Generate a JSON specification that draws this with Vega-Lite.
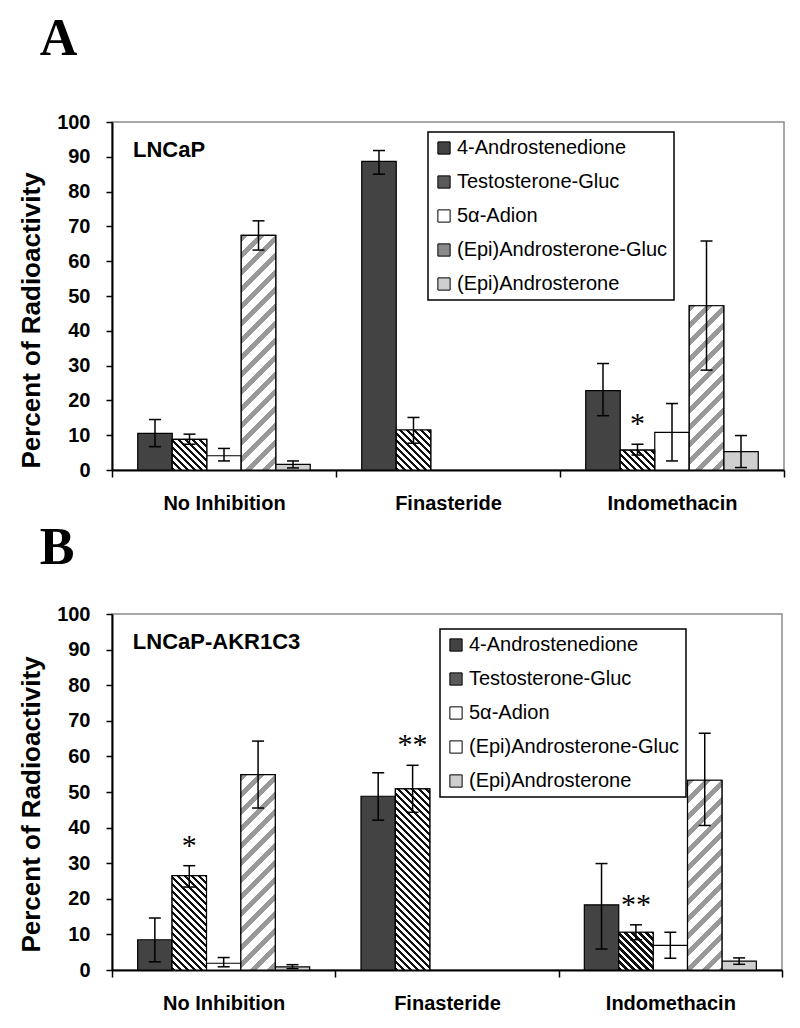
{
  "$schema": "https://vega.github.io/schema/vega-lite/v6.json",
  "background": "white",
  "padding": {"left": 17, "top": 12, "right": 5, "bottom": 5},
  "spacing": 7,
  "params": [
    {"name": "stopsTG", "value": [
      {"offset":0,"color":"#111"},{"offset":0.015625,"color":"#111"},{"offset":0.015625,"color":"#fff"},{"offset":0.03125,"color":"#fff"},
      {"offset":0.03125,"color":"#111"},{"offset":0.046875,"color":"#111"},{"offset":0.046875,"color":"#fff"},{"offset":0.0625,"color":"#fff"},
      {"offset":0.0625,"color":"#111"},{"offset":0.078125,"color":"#111"},{"offset":0.078125,"color":"#fff"},{"offset":0.09375,"color":"#fff"},
      {"offset":0.09375,"color":"#111"},{"offset":0.109375,"color":"#111"},{"offset":0.109375,"color":"#fff"},{"offset":0.125,"color":"#fff"},
      {"offset":0.125,"color":"#111"},{"offset":0.140625,"color":"#111"},{"offset":0.140625,"color":"#fff"},{"offset":0.15625,"color":"#fff"},
      {"offset":0.15625,"color":"#111"},{"offset":0.171875,"color":"#111"},{"offset":0.171875,"color":"#fff"},{"offset":0.1875,"color":"#fff"},
      {"offset":0.1875,"color":"#111"},{"offset":0.203125,"color":"#111"},{"offset":0.203125,"color":"#fff"},{"offset":0.21875,"color":"#fff"},
      {"offset":0.21875,"color":"#111"},{"offset":0.234375,"color":"#111"},{"offset":0.234375,"color":"#fff"},{"offset":0.25,"color":"#fff"},
      {"offset":0.25,"color":"#111"},{"offset":0.265625,"color":"#111"},{"offset":0.265625,"color":"#fff"},{"offset":0.28125,"color":"#fff"},
      {"offset":0.28125,"color":"#111"},{"offset":0.296875,"color":"#111"},{"offset":0.296875,"color":"#fff"},{"offset":0.3125,"color":"#fff"},
      {"offset":0.3125,"color":"#111"},{"offset":0.328125,"color":"#111"},{"offset":0.328125,"color":"#fff"},{"offset":0.34375,"color":"#fff"},
      {"offset":0.34375,"color":"#111"},{"offset":0.359375,"color":"#111"},{"offset":0.359375,"color":"#fff"},{"offset":0.375,"color":"#fff"},
      {"offset":0.375,"color":"#111"},{"offset":0.390625,"color":"#111"},{"offset":0.390625,"color":"#fff"},{"offset":0.40625,"color":"#fff"},
      {"offset":0.40625,"color":"#111"},{"offset":0.421875,"color":"#111"},{"offset":0.421875,"color":"#fff"},{"offset":0.4375,"color":"#fff"},
      {"offset":0.4375,"color":"#111"},{"offset":0.453125,"color":"#111"},{"offset":0.453125,"color":"#fff"},{"offset":0.46875,"color":"#fff"},
      {"offset":0.46875,"color":"#111"},{"offset":0.484375,"color":"#111"},{"offset":0.484375,"color":"#fff"},{"offset":0.5,"color":"#fff"},
      {"offset":0.5,"color":"#111"},{"offset":0.515625,"color":"#111"},{"offset":0.515625,"color":"#fff"},{"offset":0.53125,"color":"#fff"},
      {"offset":0.53125,"color":"#111"},{"offset":0.546875,"color":"#111"},{"offset":0.546875,"color":"#fff"},{"offset":0.5625,"color":"#fff"},
      {"offset":0.5625,"color":"#111"},{"offset":0.578125,"color":"#111"},{"offset":0.578125,"color":"#fff"},{"offset":0.59375,"color":"#fff"},
      {"offset":0.59375,"color":"#111"},{"offset":0.609375,"color":"#111"},{"offset":0.609375,"color":"#fff"},{"offset":0.625,"color":"#fff"},
      {"offset":0.625,"color":"#111"},{"offset":0.640625,"color":"#111"},{"offset":0.640625,"color":"#fff"},{"offset":0.65625,"color":"#fff"},
      {"offset":0.65625,"color":"#111"},{"offset":0.671875,"color":"#111"},{"offset":0.671875,"color":"#fff"},{"offset":0.6875,"color":"#fff"},
      {"offset":0.6875,"color":"#111"},{"offset":0.703125,"color":"#111"},{"offset":0.703125,"color":"#fff"},{"offset":0.71875,"color":"#fff"},
      {"offset":0.71875,"color":"#111"},{"offset":0.734375,"color":"#111"},{"offset":0.734375,"color":"#fff"},{"offset":0.75,"color":"#fff"},
      {"offset":0.75,"color":"#111"},{"offset":0.765625,"color":"#111"},{"offset":0.765625,"color":"#fff"},{"offset":0.78125,"color":"#fff"},
      {"offset":0.78125,"color":"#111"},{"offset":0.796875,"color":"#111"},{"offset":0.796875,"color":"#fff"},{"offset":0.8125,"color":"#fff"},
      {"offset":0.8125,"color":"#111"},{"offset":0.828125,"color":"#111"},{"offset":0.828125,"color":"#fff"},{"offset":0.84375,"color":"#fff"},
      {"offset":0.84375,"color":"#111"},{"offset":0.859375,"color":"#111"},{"offset":0.859375,"color":"#fff"},{"offset":0.875,"color":"#fff"},
      {"offset":0.875,"color":"#111"},{"offset":0.890625,"color":"#111"},{"offset":0.890625,"color":"#fff"},{"offset":0.90625,"color":"#fff"},
      {"offset":0.90625,"color":"#111"},{"offset":0.921875,"color":"#111"},{"offset":0.921875,"color":"#fff"},{"offset":0.9375,"color":"#fff"},
      {"offset":0.9375,"color":"#111"},{"offset":0.953125,"color":"#111"},{"offset":0.953125,"color":"#fff"},{"offset":0.96875,"color":"#fff"},
      {"offset":0.96875,"color":"#111"},{"offset":0.984375,"color":"#111"},{"offset":0.984375,"color":"#fff"},{"offset":1,"color":"#fff"}
    ]},
    {"name": "stopsEG", "value": [
      {"offset":0,"color":"#999"},{"offset":0.025,"color":"#999"},{"offset":0.025,"color":"#fff"},{"offset":0.0625,"color":"#fff"},
      {"offset":0.0625,"color":"#999"},{"offset":0.0875,"color":"#999"},{"offset":0.0875,"color":"#fff"},{"offset":0.125,"color":"#fff"},
      {"offset":0.125,"color":"#999"},{"offset":0.15,"color":"#999"},{"offset":0.15,"color":"#fff"},{"offset":0.1875,"color":"#fff"},
      {"offset":0.1875,"color":"#999"},{"offset":0.2125,"color":"#999"},{"offset":0.2125,"color":"#fff"},{"offset":0.25,"color":"#fff"},
      {"offset":0.25,"color":"#999"},{"offset":0.275,"color":"#999"},{"offset":0.275,"color":"#fff"},{"offset":0.3125,"color":"#fff"},
      {"offset":0.3125,"color":"#999"},{"offset":0.3375,"color":"#999"},{"offset":0.3375,"color":"#fff"},{"offset":0.375,"color":"#fff"},
      {"offset":0.375,"color":"#999"},{"offset":0.4,"color":"#999"},{"offset":0.4,"color":"#fff"},{"offset":0.4375,"color":"#fff"},
      {"offset":0.4375,"color":"#999"},{"offset":0.4625,"color":"#999"},{"offset":0.4625,"color":"#fff"},{"offset":0.5,"color":"#fff"},
      {"offset":0.5,"color":"#999"},{"offset":0.525,"color":"#999"},{"offset":0.525,"color":"#fff"},{"offset":0.5625,"color":"#fff"},
      {"offset":0.5625,"color":"#999"},{"offset":0.5875,"color":"#999"},{"offset":0.5875,"color":"#fff"},{"offset":0.625,"color":"#fff"},
      {"offset":0.625,"color":"#999"},{"offset":0.65,"color":"#999"},{"offset":0.65,"color":"#fff"},{"offset":0.6875,"color":"#fff"},
      {"offset":0.6875,"color":"#999"},{"offset":0.7125,"color":"#999"},{"offset":0.7125,"color":"#fff"},{"offset":0.75,"color":"#fff"},
      {"offset":0.75,"color":"#999"},{"offset":0.775,"color":"#999"},{"offset":0.775,"color":"#fff"},{"offset":0.8125,"color":"#fff"},
      {"offset":0.8125,"color":"#999"},{"offset":0.8375,"color":"#999"},{"offset":0.8375,"color":"#fff"},{"offset":0.875,"color":"#fff"},
      {"offset":0.875,"color":"#999"},{"offset":0.9,"color":"#999"},{"offset":0.9,"color":"#fff"},{"offset":0.9375,"color":"#fff"},
      {"offset":0.9375,"color":"#999"},{"offset":0.9625,"color":"#999"},{"offset":0.9625,"color":"#fff"},{"offset":1,"color":"#fff"}
    ]}
  ],
  "resolve": {
    "scale": {"color": "independent", "x": "independent", "y": "independent", "xOffset": "independent"},
    "legend": {"color": "independent"}
  },
  "config": {
    "font": "Liberation Sans",
    "view": {"stroke": "#8c8c8c", "strokeWidth": 1.5},
    "axis": {
      "domainColor": "black", "domainWidth": 2, "tickColor": "black", "tickWidth": 1.5,
      "labelColor": "black", "labelFont": "Liberation Sans", "labelFontWeight": "bold",
      "titleColor": "black", "titleFont": "Liberation Sans", "titleFontWeight": "bold", "grid": false
    },
    "legend": {
      "title": null, "labelFont": "Liberation Sans", "labelFontSize": 20, "labelColor": "black", "labelLimit": 320,
      "symbolType": "square", "symbolSize": 150, "symbolStrokeColor": "black", "symbolStrokeWidth": 1, "symbolOpacity": 1,
      "strokeColor": "black", "strokeWidth": 1.5, "fillColor": "white", "padding": 6, "rowPadding": 14, "labelOffset": 3
    },
    "title": {"font": "Liberation Serif", "fontSize": 52, "fontWeight": "bold", "color": "black", "anchor": "start", "frame": "bounds"}
  },
  "vconcat": [
    {
      "title": {"text": "A", "dx": 21, "offset": 46},
      "width": 672,
      "height": 348,
      "data": {"values": [
        {"treatment": "No Inhibition", "series": "4-Androstenedione", "value": 10.5, "lo": 6.7, "hi": 14.5},
        {"treatment": "No Inhibition", "series": "Testosterone-Gluc", "value": 8.8, "lo": 7.4, "hi": 10.3},
        {"treatment": "No Inhibition", "series": "5α-Adion", "value": 4.1, "lo": 2.6, "hi": 6.2},
        {"treatment": "No Inhibition", "series": "(Epi)Androsterone-Gluc", "value": 67.4, "lo": 63.2, "hi": 71.6},
        {"treatment": "No Inhibition", "series": "(Epi)Androsterone", "value": 1.6, "lo": 0.6, "hi": 2.6},
        {"treatment": "Finasteride", "series": "4-Androstenedione", "value": 88.7, "lo": 85.0, "hi": 91.8},
        {"treatment": "Finasteride", "series": "Testosterone-Gluc", "value": 11.5, "lo": 7.7, "hi": 15.1},
        {"treatment": "Indomethacin", "series": "4-Androstenedione", "value": 22.8, "lo": 15.6, "hi": 30.6},
        {"treatment": "Indomethacin", "series": "Testosterone-Gluc", "value": 5.7, "lo": 4.3, "hi": 7.4, "sig": "*"},
        {"treatment": "Indomethacin", "series": "5α-Adion", "value": 10.8, "lo": 2.6, "hi": 19.1},
        {"treatment": "Indomethacin", "series": "(Epi)Androsterone-Gluc", "value": 47.2, "lo": 28.7, "hi": 65.8},
        {"treatment": "Indomethacin", "series": "(Epi)Androsterone", "value": 5.3, "lo": 0.7, "hi": 9.9}
      ]},
      "encoding": {
        "x": {"field": "treatment", "type": "nominal",
              "scale": {"domain": ["No Inhibition", "Finasteride", "Indomethacin"], "paddingInner": 0, "paddingOuter": 0},
              "axis": {"title": null, "labelAngle": 0, "labelFontSize": 20, "tickBand": "extent", "tickSize": 7, "labelPadding": 16}},
        "xOffset": {"field": "series", "type": "nominal",
              "scale": {"domain": ["4-Androstenedione", "Testosterone-Gluc", "5α-Adion", "(Epi)Androsterone-Gluc", "(Epi)Androsterone"], "paddingInner": 0, "paddingOuter": 0.746}},
        "y": {"field": "value", "type": "quantitative",
              "scale": {"domain": [0, 100], "nice": false},
              "axis": {"title": "Percent of Radioactivity", "titleFontSize": 26, "titlePadding": 12, "titleY": 198, "labelFontSize": 20, "values": [0,10,20,30,40,50,60,70,80,90,100], "tickSize": 6, "labelPadding": 16}}
      },
      "layer": [
        {
          "mark": {"type": "bar", "stroke": "black", "strokeWidth": 1.2},
          "encoding": {
            "color": {"field": "series", "type": "nominal",
              "scale": {"domain": ["4-Androstenedione", "Testosterone-Gluc", "5α-Adion", "(Epi)Androsterone-Gluc", "(Epi)Androsterone"],
                        "range": ["#434343", "#5a5a5a", "#ffffff", "#8a8a8a", "#cfcfcf"]},
              "legend": {"orient": "none", "legendX": 316, "legendY": 10}}
          }
        },
        {
          "transform": [{"filter": "datum.series === 'Testosterone-Gluc' || datum.series === '(Epi)Androsterone-Gluc'"}],
          "mark": {"type": "bar", "stroke": "black", "strokeWidth": 1.2,
            "fill": {"expr": "datum.series === 'Testosterone-Gluc' ? {gradient: 'linear', x1: 0, y1: 1, x2: 34.5*224/(1190.25+pow(datum.value*3.48,2)), y2: 1-datum.value*3.48*224/(1190.25+pow(datum.value*3.48,2)), stops: stopsTG} : {gradient: 'linear', x1: 0, y1: 0, x2: 34.5*272/(1190.25+pow(datum.value*3.48,2)), y2: datum.value*3.48*272/(1190.25+pow(datum.value*3.48,2)), stops: stopsEG}"}}
        },
        {
          "mark": {"type": "rule", "color": "black", "strokeWidth": 1.5},
          "encoding": {"y": {"field": "lo", "type": "quantitative"}, "y2": {"field": "hi"}}
        },
        {
          "mark": {"type": "tick", "color": "black", "size": 12, "thickness": 1.5, "opacity": 1},
          "encoding": {"y": {"field": "lo", "type": "quantitative"}}
        },
        {
          "mark": {"type": "tick", "color": "black", "size": 12, "thickness": 1.5, "opacity": 1},
          "encoding": {"y": {"field": "hi", "type": "quantitative"}}
        },
        {
          "transform": [{"filter": "datum.sig"}],
          "mark": {"type": "text", "font": "Liberation Serif", "fontSize": 30, "color": "black", "dy": -20},
          "encoding": {"y": {"field": "hi", "type": "quantitative"}, "text": {"field": "sig"}}
        },
        {
          "transform": [{"filter": "datum.treatment === 'No Inhibition' && datum.series === '4-Androstenedione'"}],
          "mark": {"type": "text", "align": "left", "baseline": "middle", "fontWeight": "bold", "fontSize": 22, "color": "black", "dx": -22},
          "encoding": {
            "y": {"datum": 92, "type": "quantitative"},
            "text": {"value": "LNCaP"}
          }
        }
      ]
    },
    {
      "title": {"text": "B", "dx": 21, "offset": 29},
      "width": 670,
      "height": 356,
      "data": {"values": [
        {"treatment": "No Inhibition", "series": "4-Androstenedione", "value": 8.5, "lo": 2.3, "hi": 14.6},
        {"treatment": "No Inhibition", "series": "Testosterone-Gluc", "value": 26.5, "lo": 23.3, "hi": 29.3, "sig": "*"},
        {"treatment": "No Inhibition", "series": "5α-Adion", "value": 1.9, "lo": 0.9, "hi": 3.5},
        {"treatment": "No Inhibition", "series": "(Epi)Androsterone-Gluc", "value": 54.9, "lo": 45.5, "hi": 64.3},
        {"treatment": "No Inhibition", "series": "(Epi)Androsterone", "value": 0.9, "lo": 0.4, "hi": 1.5},
        {"treatment": "Finasteride", "series": "4-Androstenedione", "value": 48.8, "lo": 42.1, "hi": 55.4},
        {"treatment": "Finasteride", "series": "Testosterone-Gluc", "value": 50.9, "lo": 44.3, "hi": 57.5, "sig": "**"},
        {"treatment": "Indomethacin", "series": "4-Androstenedione", "value": 18.3, "lo": 5.9, "hi": 29.9},
        {"treatment": "Indomethacin", "series": "Testosterone-Gluc", "value": 10.6, "lo": 8.5, "hi": 12.7, "sig": "**"},
        {"treatment": "Indomethacin", "series": "5α-Adion", "value": 6.9, "lo": 3.3, "hi": 10.6},
        {"treatment": "Indomethacin", "series": "(Epi)Androsterone-Gluc", "value": 53.3, "lo": 40.6, "hi": 66.5},
        {"treatment": "Indomethacin", "series": "(Epi)Androsterone", "value": 2.5, "lo": 1.6, "hi": 3.4}
      ]},
      "encoding": {
        "x": {"field": "treatment", "type": "nominal",
              "scale": {"domain": ["No Inhibition", "Finasteride", "Indomethacin"], "paddingInner": 0, "paddingOuter": 0},
              "axis": {"title": null, "labelAngle": 0, "labelFontSize": 20, "tickBand": "extent", "tickSize": 7, "labelPadding": 16}},
        "xOffset": {"field": "series", "type": "nominal",
              "scale": {"domain": ["4-Androstenedione", "Testosterone-Gluc", "5α-Adion", "(Epi)Androsterone-Gluc", "(Epi)Androsterone"], "paddingInner": 0, "paddingOuter": 0.746}},
        "y": {"field": "value", "type": "quantitative",
              "scale": {"domain": [0, 100], "nice": false},
              "axis": {"title": "Percent of Radioactivity", "titleFontSize": 26, "titlePadding": 12, "titleY": 190, "labelFontSize": 20, "values": [0,10,20,30,40,50,60,70,80,90,100], "tickSize": 6, "labelPadding": 16}}
      },
      "layer": [
        {
          "mark": {"type": "bar", "stroke": "black", "strokeWidth": 1.2},
          "encoding": {
            "color": {"field": "series", "type": "nominal",
              "scale": {"domain": ["4-Androstenedione", "Testosterone-Gluc", "5α-Adion", "(Epi)Androsterone-Gluc", "(Epi)Androsterone"],
                        "range": ["#434343", "#5a5a5a", "#ffffff", "#ffffff", "#cfcfcf"]},
              "legend": {"orient": "none", "legendX": 328, "legendY": 15}}
          }
        },
        {
          "transform": [{"filter": "datum.series === 'Testosterone-Gluc' || datum.series === '(Epi)Androsterone-Gluc'"}],
          "mark": {"type": "bar", "stroke": "black", "strokeWidth": 1.2,
            "fill": {"expr": "datum.series === 'Testosterone-Gluc' ? {gradient: 'linear', x1: 0, y1: 1, x2: 34.4*224/(1183.4+pow(datum.value*3.56,2)), y2: 1-datum.value*3.56*224/(1183.4+pow(datum.value*3.56,2)), stops: stopsTG} : {gradient: 'linear', x1: 0, y1: 0, x2: 34.4*272/(1183.4+pow(datum.value*3.56,2)), y2: datum.value*3.56*272/(1183.4+pow(datum.value*3.56,2)), stops: stopsEG}"}}
        },
        {
          "mark": {"type": "rule", "color": "black", "strokeWidth": 1.5},
          "encoding": {"y": {"field": "lo", "type": "quantitative"}, "y2": {"field": "hi"}}
        },
        {
          "mark": {"type": "tick", "color": "black", "size": 12, "thickness": 1.5, "opacity": 1},
          "encoding": {"y": {"field": "lo", "type": "quantitative"}}
        },
        {
          "mark": {"type": "tick", "color": "black", "size": 12, "thickness": 1.5, "opacity": 1},
          "encoding": {"y": {"field": "hi", "type": "quantitative"}}
        },
        {
          "transform": [{"filter": "datum.sig"}],
          "mark": {"type": "text", "font": "Liberation Serif", "fontSize": 30, "color": "black", "dy": -20},
          "encoding": {"y": {"field": "hi", "type": "quantitative"}, "text": {"field": "sig"}}
        },
        {
          "transform": [{"filter": "datum.treatment === 'No Inhibition' && datum.series === '4-Androstenedione'"}],
          "mark": {"type": "text", "align": "left", "baseline": "middle", "fontWeight": "bold", "fontSize": 22, "color": "black", "dx": -22},
          "encoding": {
            "y": {"datum": 92, "type": "quantitative"},
            "text": {"value": "LNCaP-AKR1C3"}
          }
        }
      ]
    }
  ]
}
